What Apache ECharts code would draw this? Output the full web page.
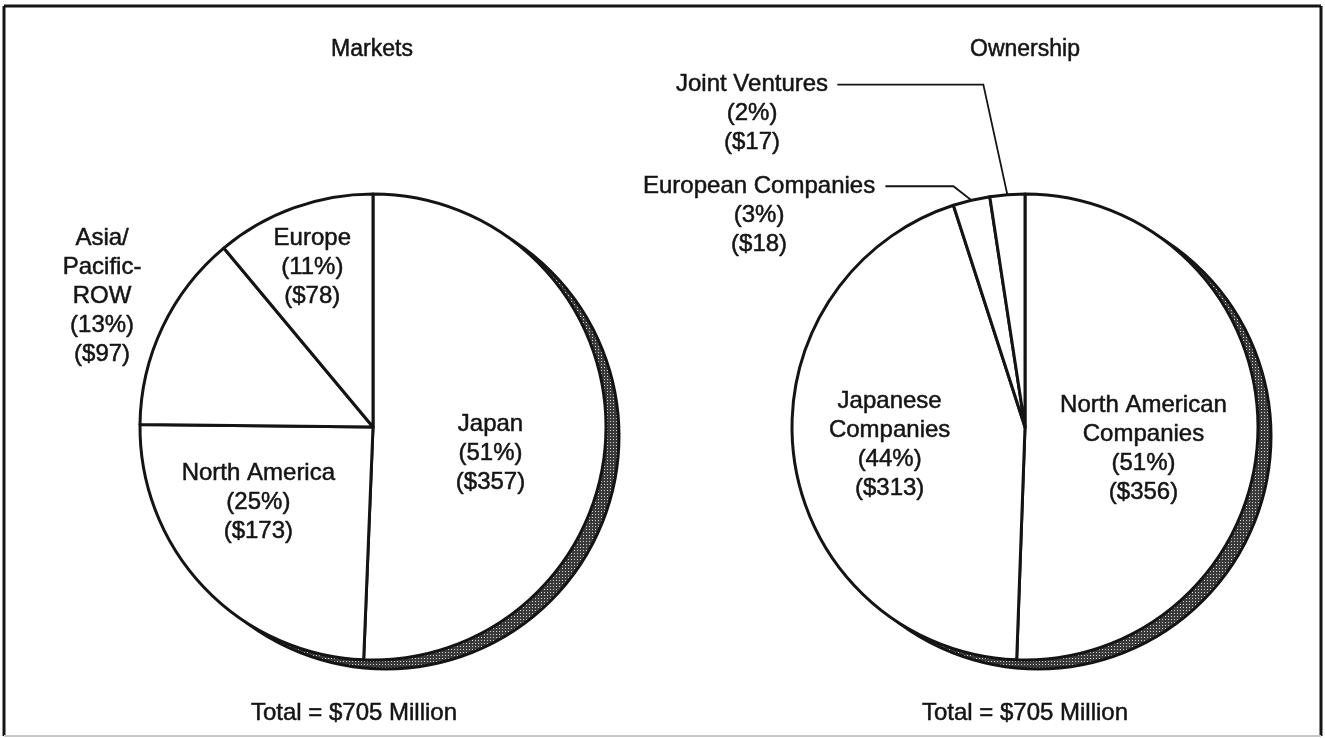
<!DOCTYPE html>
<html>
<head>
<meta charset="utf-8">
<script src="https://cdn.jsdelivr.net/npm/echarts@6/dist/echarts.min.js"></script>
<style>
  html, body { margin: 0; padding: 0; background: #fff; }
  #chart { width: 1325px; height: 738px; }
</style>
</head>
<body>
<div id="chart"></div>
<script>
// Markets: revenue by market ($ millions)
const marketNames = ['Japan', 'North America', 'Asia/\nPacific-\nROW', 'Europe'];
const marketValues = [357, 173, 97, 78];
const marketPercents = [51, 25, 13, 11];

// Ownership: revenue by company ownership ($ millions)
const ownerNames = ['North American\nCompanies', 'Japanese\nCompanies', 'European Companies', 'Joint Ventures'];
const ownerValues = [356, 313, 18, 17];
const ownerPercents = [51, 44, 3, 2];

const panelTitles = ['Markets', 'Ownership'];
const totalLabels = ['Total = $705 Million', 'Total = $705 Million'];

const FONT = '"Liberation Sans", Arial, Helvetica, sans-serif';
const INK = '#141414';
const LINE_H = 29;

// dotted grey fill for the rim shading
function stipple() {
  const c = document.createElement('canvas');
  c.width = 3; c.height = 3;
  const g = c.getContext('2d');
  g.fillStyle = '#3a3a3a';
  g.fillRect(0, 0, 3, 3);
  g.fillStyle = '#d4d4d4';
  g.fillRect(1, 1, 1, 1);
  return c;
}

const sum = a => a.reduce((s, v) => s + v, 0);

// mid angle of slice i (degrees clockwise from 12 o'clock)
function midAngle(values, i) {
  const tot = sum(values);
  let before = 0;
  for (let k = 0; k < i; k++) before += values[k];
  return (before + values[i] / 2) / tot * 360;
}

const left = { c: [373, 427], r: 233 };
const right = { c: [1025, 427], r: 233 };
const rimShift = [13, 9];

// shift of each inside label from its default anchor
const marketShift = [[-2, 24], [-28, -7], [-163, -79], [-20, -47]];
const ownerShift = [[-1, 20], [-17, 1], null, null];
// leader lines for thin ownership slices: knee offset from the rim point, horizontal run, gap to text
const ownerLeaders = { 2: { knee: [-18, -14], run: 68, gap: 10 }, 3: { knee: [-24, -110], run: 146, gap: 9 } };

function rimSeries(geo, values) {
  return {
    type: 'pie', silent: true, animation: false, z: 1,
    center: [geo.c[0] + rimShift[0], geo.c[1] + rimShift[1]],
    radius: geo.r, startAngle: 90,
    label: { show: false }, labelLine: { show: false },
    emphasis: { disabled: true },
    itemStyle: { color: { image: stipple(), repeat: 'repeat' }, borderColor: INK, borderWidth: 3 },
    data: [{ value: sum(values), name: 'rim' }]
  };
}

function labelFmt(pcts) {
  return p => p.name + '\n(' + pcts[p.dataIndex] + '%)\n($' + p.value + ')';
}

const baseLabel = {
  show: true, position: 'inside', color: INK, fontFamily: FONT,
  fontSize: 24, lineHeight: LINE_H, align: 'center',
  textBorderColor: INK, textBorderWidth: 0.5
};

const marketData = marketNames.map((n, i) => ({
  name: n, value: marketValues[i],
  label: { offset: marketShift[i] }
}));

const ownerData = ownerNames.map((n, i) => {
  const d = { name: n, value: ownerValues[i] };
  if (ownerLeaders[i]) {
    d.label = { position: 'outside' };
    d.labelLine = { show: true, length: 20, length2: 20, smooth: false, lineStyle: { color: INK, width: 1.8 } };
  } else {
    d.label = { offset: ownerShift[i] };
  }
  return d;
});

function textEl(x, y, text, size) {
  return {
    type: 'text', x: x, y: y,
    style: {
      text: text, font: size + 'px ' + FONT, fill: INK, align: 'center', verticalAlign: 'middle',
      stroke: INK, lineWidth: 0.5
    }
  };
}

const chart = echarts.init(document.getElementById('chart'), null, { renderer: 'canvas' });

chart.setOption({
  backgroundColor: '#fff',
  animation: false,
  graphic: [
    { type: 'line', shape: { x1: 4, y1: 6, x2: 1321, y2: 6 }, style: { stroke: INK, lineWidth: 3 } },
    { type: 'line', shape: { x1: 4, y1: 6, x2: 4, y2: 736 }, style: { stroke: INK, lineWidth: 3 } },
    { type: 'line', shape: { x1: 1321, y1: 6, x2: 1321, y2: 736 }, style: { stroke: INK, lineWidth: 3 } },
    { type: 'line', shape: { x1: 4, y1: 736, x2: 1321, y2: 736 }, style: { stroke: '#c8c8c8', lineWidth: 2 } },
    textEl(372, 50, panelTitles[0], 23),
    textEl(1025, 50, panelTitles[1], 23),
    textEl(354, 713, totalLabels[0], 24),
    textEl(1025, 713, totalLabels[1], 24)
  ],
  series: [
    rimSeries(left, marketValues),
    {
      type: 'pie', z: 2, animation: false,
      center: left.c, radius: left.r, startAngle: 90, clockwise: true,
      avoidLabelOverlap: false,
      emphasis: { disabled: true },
      itemStyle: { color: '#fff', borderColor: INK, borderWidth: 3 },
      label: Object.assign({}, baseLabel, { formatter: labelFmt(marketPercents) }),
      labelLine: { show: false },
      data: marketData
    },
    rimSeries(right, ownerValues),
    {
      type: 'pie', z: 2, animation: false,
      center: right.c, radius: right.r, startAngle: 90, clockwise: true,
      avoidLabelOverlap: false,
      emphasis: { disabled: true },
      itemStyle: { color: '#fff', borderColor: INK, borderWidth: 3 },
      label: Object.assign({}, baseLabel, { formatter: labelFmt(ownerPercents) }),
      labelLine: { show: false },
      labelLayout: function (p) {
        const lead = ownerLeaders[p.dataIndex];
        if (!lead) return {};
        const a = midAngle(ownerValues, p.dataIndex) * Math.PI / 180;
        const edge = [right.c[0] + right.r * Math.sin(a), right.c[1] - right.r * Math.cos(a)];
        const knee = [edge[0] + lead.knee[0], edge[1] + lead.knee[1]];
        const end = [knee[0] - lead.run, knee[1]];
        return {
          x: end[0] - lead.gap - p.labelRect.width / 2,
          y: knee[1] - LINE_H / 2,
          align: 'center', verticalAlign: 'top',
          labelLinePoints: [edge, knee, end]
        };
      },
      data: ownerData
    }
  ]
});
</script>
</body>
</html>
